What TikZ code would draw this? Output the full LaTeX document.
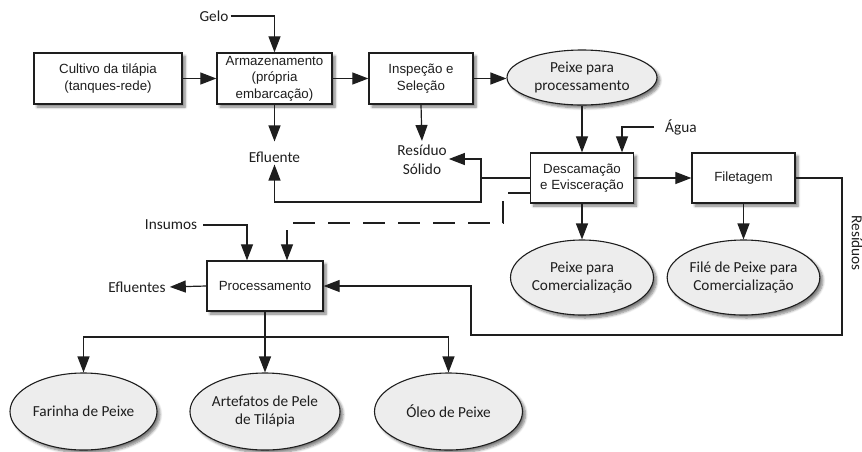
\documentclass[tikz,border=0pt]{standalone}
\usepackage{fontspec}
\setmainfont{Carlito}
\newfontfamily\boxfont{Liberation Sans}
\usetikzlibrary{arrows.meta,shapes.geometric,shadows.blur}
\definecolor{ink}{HTML}{1E1E1E}
\definecolor{ovalfill}{HTML}{EDEDED}
\begin{document}
\begin{tikzpicture}[x=1pt,y=-1pt,
  softshadow/.style={blur shadow={shadow xshift=3pt,shadow yshift=-3pt,
      shadow blur radius=2.5pt,shadow blur steps=6,shadow opacity=50}},
  stepbox/.style={draw=ink,line width=1.3pt,fill=white,rectangle,inner sep=0pt,
      align=center,font=\boxfont\fontsize{13.3}{16.5}\selectfont,text=ink,softshadow},
  product/.style={draw=ink,line width=1.1pt,fill=ovalfill,ellipse,inner sep=0pt,
      align=center,font=\fontsize{15.3}{18.5}\selectfont,text=ink,softshadow},
  tag/.style={inner sep=2pt,align=center,font=\fontsize{15.3}{19}\selectfont,text=ink},
  flow/.style={draw=ink,line width=1.2pt,-{Triangle[length=16pt,width=12pt]}},
  wire/.style={draw=ink,line width=1.2pt},
  longdash/.style={dash pattern=on 22pt off 13pt},
]
\useasboundingbox (0,0) rectangle (862,451);

% process steps
\node[stepbox,minimum width=148pt,minimum height=51pt] (cult) at (108,78.5)
  {Cultivo da tilápia\\(tanques-rede)};
\node[stepbox,minimum width=115pt,minimum height=51pt] (arm) at (274.5,78.5)
  {Armazenamento\\(própria\\embarcação)};
\node[stepbox,minimum width=104pt,minimum height=51pt] (insp) at (421,78.5)
  {Inspeção e\\Seleção};
\node[stepbox,minimum width=103pt,minimum height=50pt] (desc) at (582,178)
  {Descamação\\e Evisceração};
\node[stepbox,minimum width=103pt,minimum height=50pt] (filet) at (743.5,178)
  {Filetagem};
\node[stepbox,minimum width=116pt,minimum height=50pt] (proc) at (265,286)
  {Processamento};

% products
\node[product,minimum width=150pt,minimum height=55pt] (pproc) at (582,77.5)
  {Peixe para\\processamento};
\node[product,minimum width=143pt,minimum height=75pt] (pcom) at (582,277.5)
  {Peixe para\\Comercialização};
\node[product,minimum width=147pt,minimum height=75pt] (filec) at (743.5,277.5)
  {Filé de Peixe para\\Comercialização};
\node[product,minimum width=147pt,minimum height=77pt] (farinha) at (83.5,411.5)
  {Farinha de Peixe};
\node[product,minimum width=145pt,minimum height=77pt] (artef) at (265,411.5)
  {Artefatos de Pele\\de Tilápia};
\node[product,minimum width=148pt,minimum height=77pt] (oleo) at (448.5,411.5)
  {Óleo de Peixe};

% inputs and outputs
\node[tag] (gelo) at (214,16) {Gelo};
\node[tag] (eflu) at (274.5,157) {Efluente};
\node[tag] (resid) at (422,160) {Resíduo\\Sólido};
\node[tag,anchor=west] (agua) at (663,127) {Água};
\node[tag] (insumos) at (171,225) {Insumos};
\node[tag] (eflus) at (137,287) {Efluentes};
\node[tag,rotate=-90] (residuos) at (857,243) {Resíduos};

% turning points
\coordinate (split) at (481,178);
\coordinate (lowturn) at (481,202);
\coordinate (dk1) at (503,193);
\coordinate (dk2) at (503,223);
\coordinate (r1) at (842,178);
\coordinate (r2) at (842,335);
\coordinate (r3) at (471,335);
\coordinate (fork) at (265,337);

% main line
\draw[flow] (cult) -- (arm);
\draw[flow] (arm) -- (insp);
\draw[flow] (insp.east) -- (pproc.west |- insp.east);
\draw[flow] (gelo.east) -| (arm.north);
\draw[flow,shorten >=8pt] (arm.south) -- (eflu.north);
\draw[flow,shorten >=2pt] (insp.south) -- (resid.north);
\draw[flow] (pproc.south) -- (desc.north);
\draw[flow,shorten <=9pt] (agua.west) -| ([xshift=40pt]desc.north);
\draw[flow] (desc.east) -- (filet.west);
\draw[flow] (desc.south) -- (pcom.north);
\draw[flow] (filet.south) -- (filec.north);

% solid residue and effluent from scaling
\draw[wire] (desc.west) -- (split);
\draw[flow] (split) |- ([yshift=1pt]resid.east);
\draw[flow] (split) -- (lowturn) -| (eflu.south);

% by-products to processing
\draw[flow,longdash] (desc.west |- dk1) -- (dk1) -- (dk2) -| ([xshift=22pt]proc.north);
\draw[flow,shorten <=4pt] (insumos.east) -| ([xshift=-18pt]proc.north);
\draw[flow] (filet.east) -- (r1) -- (r2) -- (r3) |- (proc.east);
\draw[flow,shorten >=2pt] (proc.west) -- (eflus.east);

% processing outputs
\draw[wire] (proc.south) -- (fork);
\draw[flow] (fork) -| (farinha.north);
\draw[flow] (fork) -- (artef.north);
\draw[flow] (fork) -| (oleo.north);
\end{tikzpicture}
\end{document}
